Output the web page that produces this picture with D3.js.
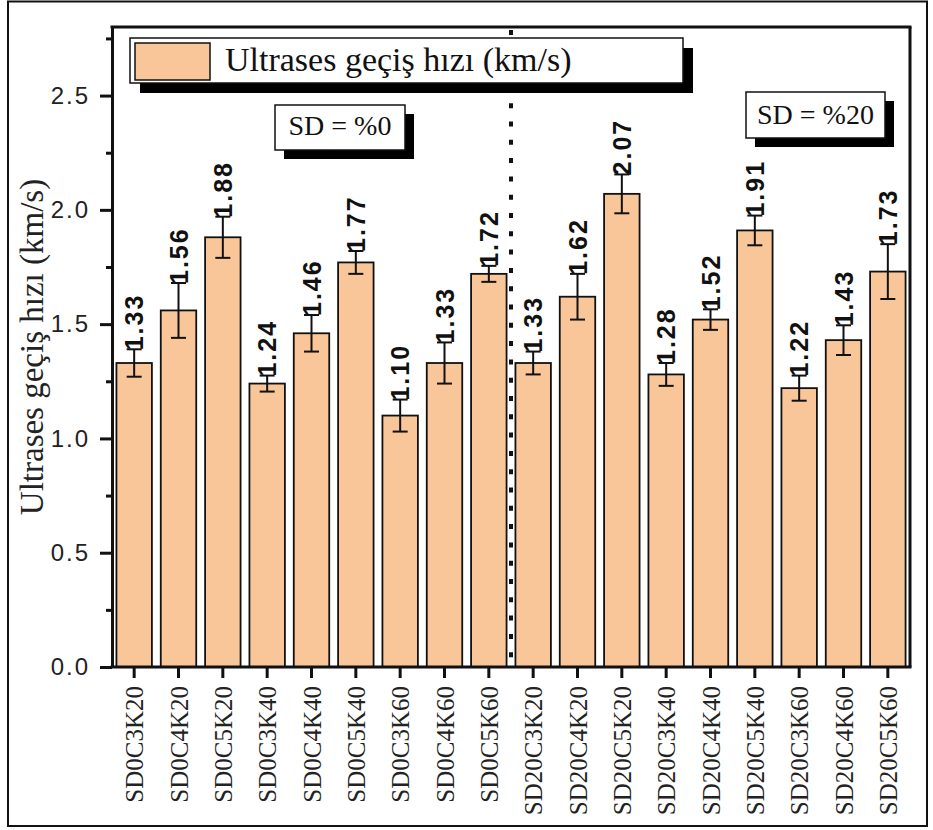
<!DOCTYPE html>
<html>
<head>
<meta charset="utf-8">
<script src="https://cdn.jsdelivr.net/npm/d3@7"></script>
<style>
  html, body { margin: 0; padding: 0; background: #fff; }
  svg { display: block; }
  .serif { font-family: 'Liberation Serif', 'Times New Roman', serif; }
  .sans { font-family: 'Liberation Sans', Arial, sans-serif; }
</style>
</head>
<body>
<svg id="chart" width="933" height="830"></svg>
<script>
const categories = ["SD0C3K20","SD0C4K20","SD0C5K20","SD0C3K40","SD0C4K40","SD0C5K40","SD0C3K60","SD0C4K60","SD0C5K60",
                    "SD20C3K20","SD20C4K20","SD20C5K20","SD20C3K40","SD20C4K40","SD20C5K40","SD20C3K60","SD20C4K60","SD20C5K60"];
const values = [1.33,1.56,1.88,1.24,1.46,1.77,1.10,1.33,1.72, 1.33,1.62,2.07,1.28,1.52,1.91,1.22,1.43,1.73];
const errors = [0.06,0.12,0.09,0.035,0.08,0.05,0.07,0.09,0.035, 0.05,0.10,0.085,0.05,0.045,0.065,0.055,0.065,0.12];
const yMajorTicks = [0.0,0.5,1.0,1.5,2.0,2.5];
const yMinorTicks = [0.25,0.75,1.25,1.75,2.25,2.75];
const legendLabel = "Ultrases geçiş hızı (km/s)";
const yTitle = "Ultrases geçiş hızı (km/s)";
const groupLabels = ["SD = %0","SD = %20"];

const svg = d3.select("#chart");
const plot = {left: 112, right: 910, top: 27, bottom: 667};
const barFill = "#F9C699";
const ink = "#111";

// outer frame
svg.append("rect").attr("x", 8).attr("y", 1.5).attr("width", 919).attr("height", 824.5)
  .attr("fill", "none").attr("stroke", ink).attr("stroke-width", 2);

const x = d3.scaleBand().domain(categories).range([plot.left, plot.right]).paddingInner(0.2).paddingOuter(0.1);
const y = d3.scaleLinear().domain([0, 2.8]).range([plot.bottom, plot.top]);

// bars
svg.append("g").selectAll("rect").data(categories).join("rect")
  .attr("x", d => x(d)).attr("y", (d,i) => y(values[i]))
  .attr("width", x.bandwidth()).attr("height", (d,i) => y(0) - y(values[i]))
  .attr("fill", barFill).attr("stroke", ink).attr("stroke-width", 1.8);

// error bars
const eb = svg.append("g").attr("stroke", ink).attr("stroke-width", 2);
categories.forEach((c,i) => {
  const cx = x(c) + x.bandwidth()/2;
  const hi = y(values[i] + errors[i]), lo = y(values[i] - errors[i]);
  eb.append("line").attr("x1", cx).attr("x2", cx).attr("y1", hi).attr("y2", lo);
  eb.append("line").attr("x1", cx-7.5).attr("x2", cx+7.5).attr("y1", hi).attr("y2", hi);
  eb.append("line").attr("x1", cx-7.5).attr("x2", cx+7.5).attr("y1", lo).attr("y2", lo);
});

// value labels
svg.append("g").selectAll("text").data(categories).join("text")
  .attr("class", "sans")
  .attr("transform", (d,i) => `translate(${x(d) + x.bandwidth()/2 + 9},${y(values[i] + errors[i]) + 1}) rotate(-90)`)
  .attr("text-anchor", "start")
  .attr("font-weight", "bold").attr("font-size", 25).attr("letter-spacing", 2)
  .attr("fill", ink)
  .text((d,i) => values[i].toFixed(2));

// dotted separator between groups
const sepX = (x(categories[8]) + x.bandwidth() + x(categories[9])) / 2;
svg.append("line").attr("x1", sepX).attr("x2", sepX).attr("y1", plot.top + 3).attr("y2", plot.bottom)
  .attr("stroke", ink).attr("stroke-width", 4).attr("stroke-dasharray", "5 13.3");

// y axis
const yAxis = d3.axisLeft(y).tickValues(yMajorTicks).tickFormat(d3.format(".1f")).tickSize(12).tickSizeOuter(0).tickPadding(10);
const gy = svg.append("g").attr("transform", `translate(${plot.left},0)`).call(yAxis);
gy.attr("font-family", null).attr("font-size", null);
gy.select(".domain").attr("stroke", ink).attr("stroke-width", 3);
gy.selectAll(".tick line").attr("stroke", ink).attr("stroke-width", 3);
gy.selectAll(".tick text").attr("class", "sans").attr("font-size", 24)
  .attr("letter-spacing", 2).attr("fill", "#222");
const yMinor = d3.axisLeft(y).tickValues(yMinorTicks).tickFormat("").tickSize(6).tickSizeOuter(0);
const gym = svg.append("g").attr("transform", `translate(${plot.left},0)`).call(yMinor);
gym.select(".domain").remove();
gym.selectAll(".tick line").attr("stroke", ink).attr("stroke-width", 3);

// x axis
const xAxis = d3.axisBottom(x).tickSize(11).tickSizeOuter(0).tickPadding(0);
const gx = svg.append("g").attr("transform", `translate(0,${plot.bottom})`).call(xAxis);
gx.attr("font-family", null).attr("font-size", null);
gx.select(".domain").attr("stroke", ink).attr("stroke-width", 3).attr("d", `M${plot.left - 1.5},0H${plot.right + 1.5}`);
gx.selectAll(".tick line").attr("stroke", ink).attr("stroke-width", 3);
gx.selectAll(".tick text")
  .attr("class", "serif")
  .attr("transform", "translate(9,19) rotate(-90)")
  .attr("x", 0).attr("y", 0).attr("dy", 0)
  .attr("text-anchor", "end")
  .attr("font-size", 25)
  .attr("fill", "#222");

// top and right frame of plot
svg.append("line").attr("x1", plot.left - 1.5).attr("x2", plot.right + 1.5).attr("y1", plot.top).attr("y2", plot.top)
  .attr("stroke", ink).attr("stroke-width", 3);
svg.append("line").attr("x1", plot.right).attr("x2", plot.right).attr("y1", plot.top).attr("y2", plot.bottom)
  .attr("stroke", ink).attr("stroke-width", 3);

// y title
svg.append("text").attr("class", "serif")
  .attr("transform", `translate(43,${(plot.top + plot.bottom)/2}) rotate(-90)`)
  .attr("text-anchor", "middle").attr("font-size", 33)
  .attr("fill", "#222").text(yTitle);

// box with shadow helper
function shadowBox(x0, y0, w, h, off) {
  const g = svg.append("g");
  g.append("rect").attr("x", x0 + off).attr("y", y0 + off).attr("width", w).attr("height", h).attr("fill", "#000");
  g.append("rect").attr("x", x0).attr("y", y0).attr("width", w).attr("height", h)
    .attr("fill", "#fff").attr("stroke", ink).attr("stroke-width", 1.5);
  return g;
}

// legend
const lg = shadowBox(130, 38, 553, 45, 10);
lg.append("rect").attr("x", 135).attr("y", 43).attr("width", 75).attr("height", 37)
  .attr("fill", barFill).attr("stroke", ink).attr("stroke-width", 1.5);
lg.append("text").attr("class", "serif").attr("x", 225).attr("y", 71)
  .attr("font-size", 34).attr("fill", "#111").text(legendLabel);

// group annotations
const g0 = shadowBox(275, 105, 130, 45, 9);
g0.append("text").attr("class", "serif").attr("x", 340).attr("y", 135).attr("text-anchor", "middle")
  .attr("font-size", 28).attr("fill", "#111").text(groupLabels[0]);
const g1 = shadowBox(746, 92, 139, 46, 9);
g1.append("text").attr("class", "serif").attr("x", 815.5).attr("y", 124).attr("text-anchor", "middle")
  .attr("font-size", 28).attr("fill", "#111").text(groupLabels[1]);
</script>
</body>
</html>
